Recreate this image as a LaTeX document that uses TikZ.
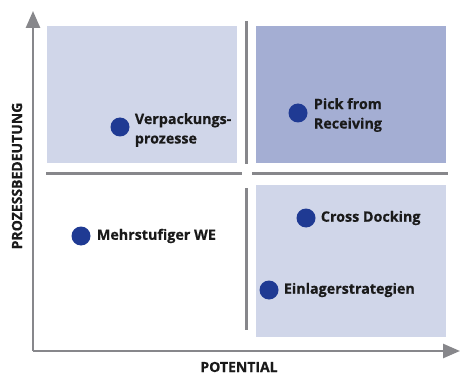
\documentclass[tikz,border=0pt]{standalone}
\usepackage{fontspec}
\setmainfont{Open Sans}[BoldFeatures={FakeBold=0.5}]
\usetikzlibrary{arrows.meta}
\definecolor{lightbox}{HTML}{D0D6E9}
\definecolor{darkbox}{HTML}{A4AED3}
\definecolor{dotblue}{HTML}{1F3A93}
\definecolor{axisgrey}{HTML}{87878B}
\definecolor{textcol}{HTML}{1A1A1A}
\tikzset{
  quadlight/.style={fill=lightbox, draw=none, inner sep=0pt, minimum width=190pt, minimum height=137pt},
  quaddark/.style={fill=darkbox, draw=none, inner sep=0pt, minimum width=190pt, minimum height=137pt},
  dot/.style={circle, fill=dotblue, draw=none, inner sep=0pt, minimum size=19pt},
  lbl/.style={anchor=west, inner sep=0pt, align=left, text=textcol, font=\fontsize{14.3}{19.5}\selectfont\bfseries},
  axislbl/.style={inner sep=0pt, text=textcol, font=\fontsize{14}{16}\selectfont\bfseries},
  divider/.style={draw=axisgrey, line width=3pt},
  axis/.style={draw=axisgrey, line width=2.6pt, -{Triangle[length=17pt,width=14pt]}}
}
\begin{document}
\begin{tikzpicture}[x=1pt,y=-1pt]
\useasboundingbox (0,0) rectangle (460,374);
% quadrants
\node[quadlight] (tl) at (142,94.5) {};
\node[quaddark]  (tr) at (351,94.5) {};
\node[quadlight, minimum height=152pt] (br) at (351,261) {};
% dividers
\coordinate (vt1) at (246,21);
\coordinate (vt2) at (246,164);
\coordinate (vb1) at (246,188);
\coordinate (vb2) at (246,330);
\coordinate (hl1) at (46,174);
\coordinate (hl2) at (242,174);
\coordinate (hr1) at (252,174);
\coordinate (hr2) at (448,174);
\draw[divider] (vt1) -- (vt2);
\draw[divider] (vb1) -- (vb2);
\draw[divider] (hl1) -- (hl2);
\draw[divider] (hr1) -- (hr2);
% axes
\coordinate (origin) at (33,351);
\coordinate (ytip) at (33,11);
\coordinate (xtip) at (460,351);
\draw[axis] (origin) -- (ytip);
\draw[axis] (origin) -- (xtip);
\node[axislbl, rotate=90] (ylabel) at (17,176) {PROZESSBEDEUTUNG};
\node[axislbl, anchor=base] (xlabel) at (239,372) {POTENTIAL};
% points
\node[dot] (p1) at (120,127) {};
\node[lbl] (l1) at ([xshift=5pt,yshift=-3pt]p1.east) {Verpackungs-\\prozesse};
\node[dot] (p2) at (298,113) {};
\node[lbl] (l2) at ([xshift=6pt,yshift=-2pt]p2.east) {Pick from\\Receiving};
\node[dot] (p3) at (306,218) {};
\node[lbl] (l3) at ([xshift=5pt]p3.east) {Cross Docking};
\node[dot] (p4) at (81,236) {};
\node[lbl] (l4) at ([xshift=6pt]p4.east) {Mehrstufiger WE};
\node[dot] (p5) at (269,290) {};
\node[lbl] (l5) at ([xshift=5pt]p5.east) {Einlagerstrategien};
\end{tikzpicture}
\end{document}
